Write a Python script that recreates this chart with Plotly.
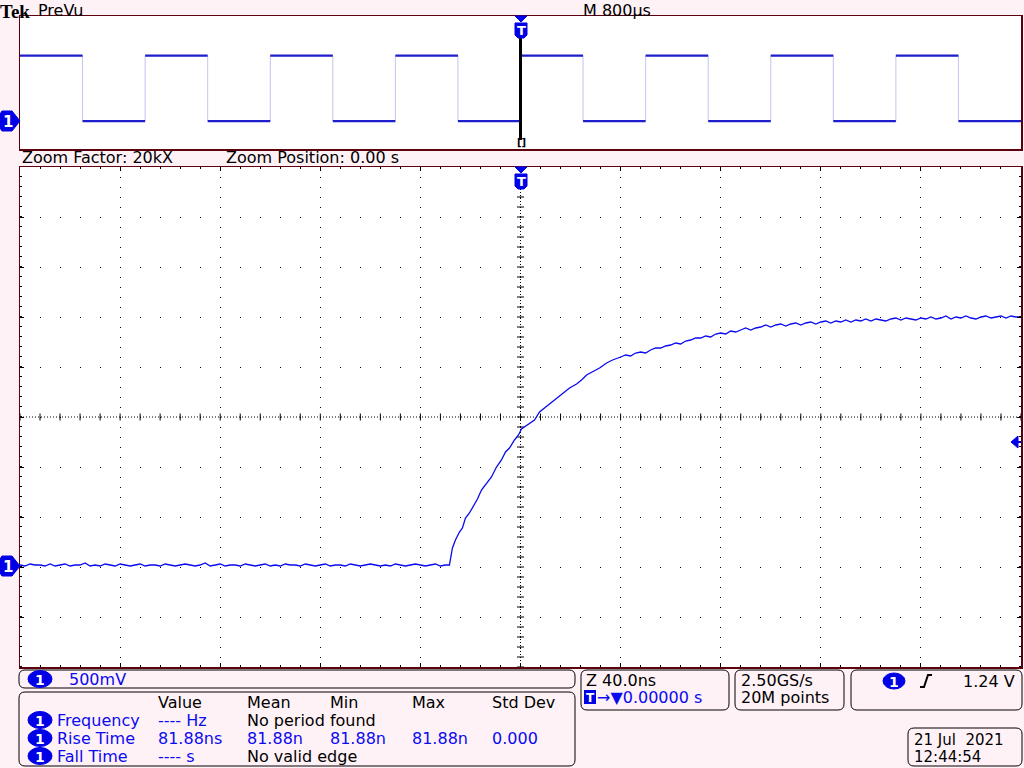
import plotly.graph_objects as go

W, H = 1024, 768

# ---------------- data ----------------
# zoomed window (40 ns/div): channel 1 samples, time in ns, voltage in V
base_time_ns = [
    -200, -198, -196, -194, -192, -190, -188, -186, -184, -182,
    -180, -178, -176, -174, -172, -170, -168, -166, -164, -162,
    -160, -158, -156, -154, -152, -150, -148, -146, -144, -142,
    -140, -138, -136, -134, -132, -130, -128, -126, -124, -122,
    -120, -118, -116, -114, -112, -110, -108, -106, -104, -102,
    -100, -98, -96, -94, -92, -90, -88, -86, -84, -82,
    -80, -78, -76, -74, -72, -70, -68, -66, -64, -62,
    -60, -58, -56, -54, -52, -50, -48, -46, -44, -42,
    -40, -38, -36, -34, -32, -30, -28.4,
]
base_volt_v = [
    0.01, 0.00, 0.02, 0.01, 0.01, 0.00, 0.02, 0.00, 0.01, 0.02,
    0.00, 0.01, 0.01, 0.03, 0.00, 0.01, 0.00, 0.02, 0.01, 0.00,
    0.02, 0.01, 0.00, 0.01, 0.02, 0.00, 0.01, 0.01, 0.00, 0.02,
    0.01, 0.00, 0.01, 0.02, 0.01, 0.00, 0.01, 0.03, 0.00, 0.01,
    0.02, 0.00, 0.01, 0.01, 0.00, 0.02, 0.01, 0.00, 0.01, 0.02,
    0.00, 0.01, 0.00, 0.02, 0.01, 0.01, 0.00, 0.02, 0.01, 0.00,
    0.01, 0.02, 0.00, 0.01, 0.01, 0.00, 0.02, 0.01, 0.00, 0.01,
    0.02, 0.01, 0.00, 0.01, 0.00, 0.02, 0.01, 0.00, 0.01, 0.02,
    0.01, 0.00, 0.01, 0.02, 0.00, 0.01, 0.01,
]
rise_time_ns = [
    -27.2, -26.0, -24.4, -23.2, -22.0, -20.4, -18.4, -17.2, -15.6, -13.6, -11.6, -9.6, -7.6,
    -6.0, -4.4, -2.4, -0.8, 0.4, 2.0, 3.6, 5.6, 7.6, 9.6, 12.0, 14.4, 16.8, 19.6, 22.4, 24.4,
    26.4, 28.8, 31.6, 34.4, 36.8,
]
rise_volt_v = [
    0.18, 0.26, 0.34, 0.38, 0.48, 0.53, 0.61, 0.67, 0.76, 0.83, 0.89, 0.99, 1.06,
    1.14, 1.18, 1.26, 1.31, 1.37, 1.40, 1.43, 1.46, 1.54, 1.58, 1.63, 1.68, 1.72, 1.78, 1.82, 1.86,
    1.91, 1.94, 1.98, 2.03, 2.06,
]
settle_time_ns = [
    40, 42, 44, 46, 48, 50, 52, 54, 56, 58, 60, 62, 64, 66, 68, 70, 72, 74, 76, 78,
    80, 82, 84, 86, 88, 90, 92, 94, 96, 98, 100, 102, 104, 106, 108, 110, 112, 114, 116, 118,
    120, 122, 124, 126, 128, 130, 132, 134, 136, 138, 140, 142, 144, 146, 148, 150, 152, 154, 156, 158,
    160, 162, 164, 166, 168, 170, 172, 174, 176, 178, 180, 182, 184, 186, 188, 190, 192, 194, 196, 198,
    200,
]
settle_volt_v = [
    2.09, 2.11, 2.10, 2.13, 2.14, 2.13, 2.16, 2.18, 2.18, 2.20, 2.21, 2.23, 2.22, 2.25, 2.26, 2.28, 2.28, 2.30, 2.29, 2.32,
    2.33, 2.32, 2.35, 2.34, 2.36, 2.38, 2.36, 2.38, 2.39, 2.41, 2.39, 2.41, 2.42, 2.40, 2.42, 2.43, 2.41, 2.43, 2.44, 2.42,
    2.44, 2.45, 2.43, 2.45, 2.44, 2.46, 2.44, 2.46, 2.45, 2.47, 2.45, 2.47, 2.46, 2.45, 2.47, 2.48, 2.46, 2.48, 2.47, 2.46,
    2.48, 2.47, 2.49, 2.47, 2.48, 2.50, 2.47, 2.49, 2.48, 2.50, 2.48, 2.47, 2.49, 2.50, 2.48, 2.49, 2.50, 2.48, 2.50, 2.49,
    2.49,
]

# PreVu (full record, 800 us/div): segment boundaries (ms) and level of each segment (V)
prevu_bounds_ms = [-4.0, -3.5, -3.0, -2.5, -2.0, -1.5, -1.0, -0.5, 0.0, 0.5, 1.0, 1.5, 2.0, 2.5, 3.0, 3.5, 4.0]
prevu_levels_v = [2.46, 0.0, 2.46, 0.0, 2.46, 0.0, 2.46, 0.0, 2.46, 0.0, 2.46, 0.0, 2.46, 0.0, 2.46, 0.0]

trigger_level_v = 1.24
volts_per_div = 0.5
ns_per_div = 40.0

meas_headers = ["Value", "Mean", "Min", "Max", "Std Dev"]
meas_rows = [
    ("Frequency", ["---- Hz", "No period found"]),
    ("Rise Time", ["81.88ns", "81.88n", "81.88n", "81.88n", "0.000"]),
    ("Fall Time", ["---- s", "No valid edge"]),
]

# ---------------- styling ----------------
BG = "#fff2f7"
BORDER = "#5c0010"
BLUE = "#0a0af0"
MARK = "#0000e6"
FONT = "DejaVu Sans"
FS = 16

MAIN_X0, MAIN_X1, MAIN_Y0, MAIN_Y1 = 20, 1021, 167, 667
PV_Y0, PV_Y1 = 16, 149
Y_MIN, Y_MAX = -1.01, 3.99
Y_CENTER = (Y_MIN + Y_MAX) / 2


def px(x):
    return x / W


def py(y):
    return 1 - y / H


fig = go.Figure()

# ---- graticule helpers: tick marks along the center cross ----
ytick_vals = []
v = Y_MIN
while v <= Y_MAX + 1e-9:
    ytick_vals.append(round(v, 4))
    v += volts_per_div / 5
xtick_vals = []
t = -5 * ns_per_div
while t <= 5 * ns_per_div + 1e-9:
    xtick_vals.append(round(t, 4))
    t += ns_per_div / 5

fig.add_trace(go.Scatter(
    x=[0] * len(ytick_vals), y=ytick_vals, mode="markers", xaxis="x", yaxis="y",
    marker=dict(symbol="line-ew", size=5, line=dict(color="black", width=1)),
    hoverinfo="skip", showlegend=False))
fig.add_trace(go.Scatter(
    x=xtick_vals, y=[Y_CENTER] * len(xtick_vals), mode="markers", xaxis="x", yaxis="y",
    marker=dict(symbol="line-ns", size=5, line=dict(color="black", width=1)),
    hoverinfo="skip", showlegend=False))

# ---- main waveform ----
fig.add_trace(go.Scatter(
    x=base_time_ns + rise_time_ns + settle_time_ns,
    y=base_volt_v + rise_volt_v + settle_volt_v,
    mode="lines", xaxis="x", yaxis="y",
    line=dict(color=BLUE, width=1.3), hoverinfo="skip", showlegend=False))

# ---- PreVu square wave: faint edges + bold levels ----
edge_x, edge_y = [], []
for i, lvl in enumerate(prevu_levels_v):
    edge_x += [prevu_bounds_ms[i], prevu_bounds_ms[i + 1]]
    edge_y += [lvl, lvl]
fig.add_trace(go.Scatter(
    x=edge_x, y=edge_y, mode="lines", xaxis="x2", yaxis="y2",
    line=dict(color="#c4c4f2", width=1), hoverinfo="skip", showlegend=False))
lvl_x, lvl_y = [], []
for i, lvl in enumerate(prevu_levels_v):
    lvl_x += [prevu_bounds_ms[i], prevu_bounds_ms[i + 1], None]
    lvl_y += [lvl, lvl, None]
fig.add_trace(go.Scatter(
    x=lvl_x, y=lvl_y, mode="lines", xaxis="x2", yaxis="y2",
    line=dict(color="#1e1ecc", width=2.2), hoverinfo="skip", showlegend=False))

shapes = []
annotations = []

# center dotted cross lines of the main graticule
shapes.append(dict(type="line", xref="x", yref="y", x0=0, x1=0, y0=Y_MIN, y1=Y_MAX,
                   line=dict(color="black", width=1, dash="1px,2px"), layer="below"))
shapes.append(dict(type="line", xref="x", yref="y", x0=-200, x1=200, y0=Y_CENTER, y1=Y_CENTER,
                   line=dict(color="black", width=1, dash="1px,2px"), layer="below"))

# trigger position line in PreVu
shapes.append(dict(type="line", xref="x2", yref="paper", x0=0, x1=0, y0=py(140), y1=py(37),
                   line=dict(color="black", width=3)))


def path(points, close=True):
    s = "M " + " L ".join(f"{px(x):.5f},{py(y):.5f}" for x, y in points)
    return s + (" Z" if close else "")


def rrect(x0, y0, x1, y1, r, color="black", width=1):
    p = (f"M {px(x0 + r)},{py(y0)} L {px(x1 - r)},{py(y0)} "
         f"Q {px(x1)},{py(y0)} {px(x1)},{py(y0 + r)} L {px(x1)},{py(y1 - r)} "
         f"Q {px(x1)},{py(y1)} {px(x1 - r)},{py(y1)} L {px(x0 + r)},{py(y1)} "
         f"Q {px(x0)},{py(y1)} {px(x0)},{py(y1 - r)} L {px(x0)},{py(y0 + r)} "
         f"Q {px(x0)},{py(y0)} {px(x0 + r)},{py(y0)} Z")
    return dict(type="path", xref="paper", yref="paper", path=p,
                line=dict(color=color, width=width))


def text(x, y, s, size=FS, color="black", anchor="left", bold=False, family=FONT, vanchor="middle"):
    if bold:
        s = f"<b>{s}</b>"
    annotations.append(dict(x=px(x), y=py(y), xref="paper", yref="paper", text=s,
                            showarrow=False, xanchor=anchor, yanchor=vanchor,
                            borderpad=0, font=dict(family=family, size=size, color=color)))


def badge(cx, cy, w=24, h=17):
    shapes.append(dict(type="circle", xref="paper", yref="paper",
                       x0=px(cx - w / 2), x1=px(cx + w / 2), y0=py(cy + h / 2), y1=py(cy - h / 2),
                       fillcolor=MARK, line=dict(color=MARK, width=1)))
    text(cx, cy + 0.5, "1", size=14, color="white", anchor="center", bold=True)


def t_marker(cx, ytop):
    shapes.append(dict(type="path", xref="paper", yref="paper",
                       path=path([(cx - 6, ytop), (cx + 6, ytop), (cx, ytop + 6)]),
                       fillcolor=MARK, line=dict(color=MARK, width=1)))
    shapes.append(dict(type="path", xref="paper", yref="paper",
                       path=path([(cx - 6, ytop + 7), (cx + 6, ytop + 7), (cx + 6, ytop + 19),
                                  (cx + 3, ytop + 22), (cx - 3, ytop + 22), (cx - 6, ytop + 19)]),
                       fillcolor=MARK, line=dict(color=MARK, width=1)))
    text(cx, ytop + 14.5, "T", size=13, color="white", anchor="center", bold=True)


def ch_marker(ycen):
    shapes.append(dict(type="path", xref="paper", yref="paper",
                       path=path([(2, ycen - 10), (12, ycen - 10), (20, ycen), (12, ycen + 10),
                                  (2, ycen + 10), (0, ycen + 7), (0, ycen - 7)]),
                       fillcolor=MARK, line=dict(color=MARK, width=1)))
    text(8, ycen + 0.5, "1", size=15, color="white", anchor="center", bold=True)


# markers
t_marker(521, 16)
t_marker(521, 167)
ch_marker(121)
ch_marker(566)
text(521, 143, "[]", size=10, anchor="center", bold=True)

# trigger level arrow on right edge of main panel
shapes.append(dict(type="path", xref="paper", yref="y",
                   path=(f"M {px(1011)},{trigger_level_v} L {px(1018)},{trigger_level_v + 0.06} "
                         f"L {px(1018)},{trigger_level_v - 0.06} Z"),
                   fillcolor=MARK, line=dict(color=MARK, width=1)))
shapes.append(dict(type="line", xref="paper", yref="y", x0=px(1016), x1=px(1021),
                   y0=trigger_level_v, y1=trigger_level_v, line=dict(color=MARK, width=2)))

# header texts
text(-1, 0, "Tek", size=19, bold=True, family="Liberation Serif", vanchor="top")
text(37, 0, "PreVu", size=FS, vanchor="top")
text(582, 0, "M 800µs", size=FS, vanchor="top")
text(21, 158, "Zoom Factor: 20kX", size=FS)
text(225, 158, "Zoom Position: 0.00 s", size=FS)

# ---- bottom boxes ----
shapes.append(rrect(19, 670, 575, 688, 6))
badge(40, 679)
text(68, 679, "500mV", color=BLUE)

shapes.append(rrect(19, 692, 575, 766, 6))
col_x = [157, 246, 329, 411, 491]
for cx, h in zip(col_x, meas_headers):
    text(cx, 702, h)
row_y = [720, 738, 756]
for ry, (name, vals) in zip(row_y, meas_rows):
    badge(40, ry)
    text(56, ry, name, color=BLUE)
    for j, val in enumerate(vals):
        color = "black" if val.startswith("No ") else BLUE
        text(col_x[j], ry, val, color=color)

shapes.append(rrect(581, 670, 729, 710, 6))
text(585, 680, "Z 40.0ns")
shapes.append(dict(type="rect", xref="paper", yref="paper", x0=px(584), x1=px(596),
                   y0=py(704), y1=py(690), fillcolor=MARK, line=dict(width=0)))
text(590, 697.5, "T", size=12, color="white", anchor="center", bold=True)
text(596, 697, "→▼0.00000 s", color=BLUE)

shapes.append(rrect(735, 670, 844, 710, 6))
text(740, 680, "2.50GS/s")
text(740, 697, "20M points")

shapes.append(rrect(851, 670, 1022, 710, 6))
badge(894, 681, w=22, h=16)
shapes.append(dict(type="path", xref="paper", yref="paper",
                   path=path([(920, 687), (924, 687), (928, 675), (932, 675)], close=False),
                   line=dict(color="black", width=2)))
text(1016, 681, "1.24 V", anchor="right")

shapes.append(rrect(908, 728, 1022, 766, 6))
text(913, 739.5, "21 Jul\u00a0\u00a02021", size=15)
text(913, 757, "12:44:54", size=15)

# ---------------- layout ----------------
fig.update_layout(
    width=W, height=H,
    margin=dict(l=0, r=0, t=0, b=0),
    paper_bgcolor=BG, plot_bgcolor="white",
    showlegend=False,
    xaxis=dict(domain=[px(MAIN_X0), px(MAIN_X1)], range=[-5 * ns_per_div, 5 * ns_per_div],
               showticklabels=False, zeroline=False,
               showgrid=True, dtick=ns_per_div, tick0=0, gridcolor="black", gridwidth=1,
               griddash="1px,9px",
               ticks="inside", ticklen=4, tickcolor="black", tickwidth=1,
               minor=dict(dtick=ns_per_div / 5, ticks="inside", ticklen=2, tickcolor="black",
                          showgrid=False),
               showline=True, linecolor=BORDER, linewidth=1.5, mirror="ticks",
               anchor="y", fixedrange=True),
    yaxis=dict(domain=[py(MAIN_Y1), py(MAIN_Y0)], range=[Y_MIN, Y_MAX],
               showticklabels=False, zeroline=False,
               showgrid=True, dtick=volts_per_div, tick0=Y_MIN, gridcolor="black", gridwidth=1,
               griddash="1px,19px",
               ticks="inside", ticklen=4, tickcolor="black", tickwidth=1,
               minor=dict(dtick=volts_per_div / 5, ticks="inside", ticklen=2, tickcolor="black",
                          showgrid=False),
               showline=True, linecolor=BORDER, linewidth=1.5, mirror="ticks",
               anchor="x", fixedrange=True),
    xaxis2=dict(domain=[px(MAIN_X0), px(MAIN_X1)], range=[-4, 4],
                showticklabels=False, showgrid=False, zeroline=False, ticks="",
                showline=True, linecolor=BORDER, linewidth=1.5, mirror=True,
                anchor="y2", fixedrange=True),
    yaxis2=dict(domain=[py(PV_Y1), py(PV_Y0)], range=[-1.05, 3.95],
                showticklabels=False, showgrid=False, zeroline=False, ticks="",
                showline=True, linecolor=BORDER, linewidth=1.5, mirror=True,
                anchor="x2", fixedrange=True),
    shapes=shapes,
    annotations=annotations,
)

fig.write_html(
    "out.html",
    config={"displayModeBar": False, "staticPlot": True},
    post_script="document.body.style.margin='0';document.body.style.padding='0';"
                "document.body.style.overflow='hidden';"
                "document.documentElement.style.overflow='hidden';",
)
